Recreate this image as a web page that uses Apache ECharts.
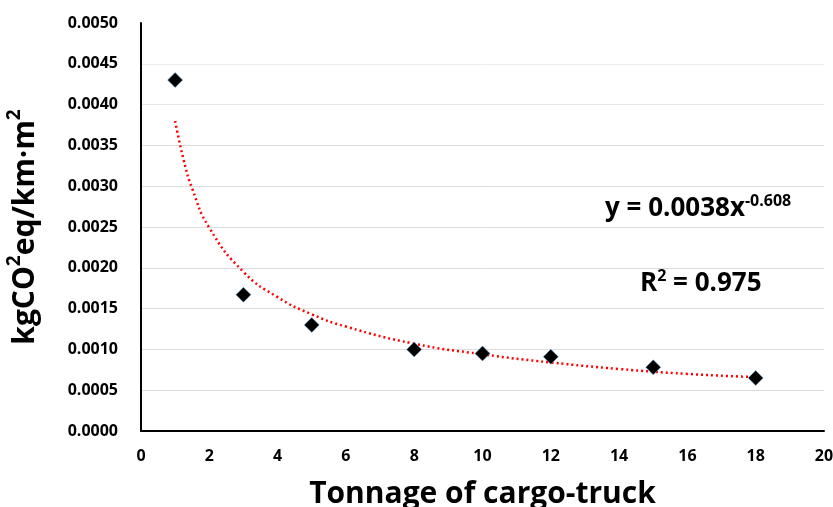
<!DOCTYPE html>
<html>
<head>
<meta charset="utf-8">
<script src="https://cdn.jsdelivr.net/npm/echarts@6/dist/echarts.min.js"></script>
<style>
  html, body { margin: 0; padding: 0; background: #fff; }
  #chart { width: 833px; height: 507px; }
</style>
</head>
<body>
<div id="chart"></div>
<script>
// measured points
const tonnage = [1, 3, 5, 8, 10, 12, 15, 18]
const emission = [0.0043, 0.00167, 0.0013, 0.0010, 0.00095, 0.00091, 0.00078, 0.00065]

// power trendline
const trendX = [1, 1.25, 1.5, 2, 3, 4, 5, 6, 8, 10, 12, 14, 16, 18]
const trendY = [0.0038, 0.00332, 0.00297, 0.00249, 0.00195, 0.00164, 0.00143, 0.00128, 0.00107, 0.00094, 0.00084, 0.00076, 0.00070, 0.00066]

const font = 'Open Sans'

// no grid line on the top value
const gridColors = ['#dcdcdc', '#dcdcdc', '#dcdcdc', '#dcdcdc', '#dcdcdc', '#dcdcdc',
  '#dcdcdc', '#dcdcdc', '#e6e6e6', '#ececec', 'rgba(0,0,0,0)']

let myChart = echarts.init(document.getElementById('chart'))

let options = {
  animation: false,
  grid: {
    left: 141,
    right: 9,
    top: 23,
    bottom: 76,
    outerBoundsMode: 'none',
    containLabel: false
  },
  xAxis: {
    type: 'value',
    min: 0,
    max: 20,
    interval: 2,
    name: 'Tonnage of cargo-truck',
    nameLocation: 'middle',
    nameGap: 48,
    nameTextStyle: { fontFamily: font, fontWeight: 'bold', fontSize: 30, color: '#000' },
    axisLine: { lineStyle: { color: '#000', width: 2 } },
    axisTick: { show: false },
    splitLine: { show: false },
    axisLabel: { fontFamily: font, fontWeight: 'bold', fontSize: 16, color: '#000', margin: 17 }
  },
  yAxis: {
    type: 'value',
    min: 0,
    max: 0.005,
    interval: 0.0005,
    name: '{b|kgCO}{s|2}{b|eq/km·m}{s|2}',
    nameLocation: 'middle',
    nameGap: 96,
    nameTextStyle: {
      rich: {
        b: { fontFamily: font, fontWeight: 'bold', fontSize: 30, color: '#000', lineHeight: 40 },
        s: { fontFamily: font, fontWeight: 'bold', fontSize: 19, color: '#000', verticalAlign: 'top', lineHeight: 40 }
      }
    },
    axisLine: { show: true, lineStyle: { color: '#000', width: 2 } },
    axisTick: { show: false },
    splitLine: { lineStyle: { color: gridColors, width: 1 } },
    axisLabel: {
      fontFamily: font, fontWeight: 'bold', fontSize: 16, color: '#000', margin: 23,
      formatter: v => v.toFixed(4)
    }
  },
  series: [
    {
      type: 'line',
      data: trendX.map((x, i) => [x, trendY[i]]),
      smooth: true,
      showSymbol: false,
      lineStyle: { color: '#ff0000', width: 2.5, type: [2, 3] },
      z: 2
    },
    {
      type: 'scatter',
      data: tonnage.map((x, i) => [x, emission[i]]),
      symbol: 'diamond',
      symbolSize: [15, 15],
      itemStyle: { color: '#000', opacity: 1, borderColor: '#6fa8dc', borderWidth: 0.5 },
      z: 3
    }
  ],
  graphic: [
    {
      type: 'text',
      left: 605,
      top: 193,
      style: {
        text: '{b|y = 0.0038x}{s|-0.608}',
        rich: {
          b: { fontFamily: font, fontWeight: 'bold', fontSize: 26, fill: '#000', lineHeight: 32 },
          s: { fontFamily: font, fontWeight: 'bold', fontSize: 16, fill: '#000', verticalAlign: 'top', lineHeight: 32, padding: [0, 0, 12, 0] }
        }
      }
    },
    {
      type: 'text',
      left: 640,
      top: 268,
      style: {
        text: '{b|R}{s|2}{b| = 0.975}',
        rich: {
          b: { fontFamily: font, fontWeight: 'bold', fontSize: 26, fill: '#000', lineHeight: 32 },
          s: { fontFamily: font, fontWeight: 'bold', fontSize: 16, fill: '#000', verticalAlign: 'top', lineHeight: 32, padding: [0, 0, 12, 0] }
        }
      }
    }
  ]
}
myChart.setOption(options)
</script>
</body>
</html>
